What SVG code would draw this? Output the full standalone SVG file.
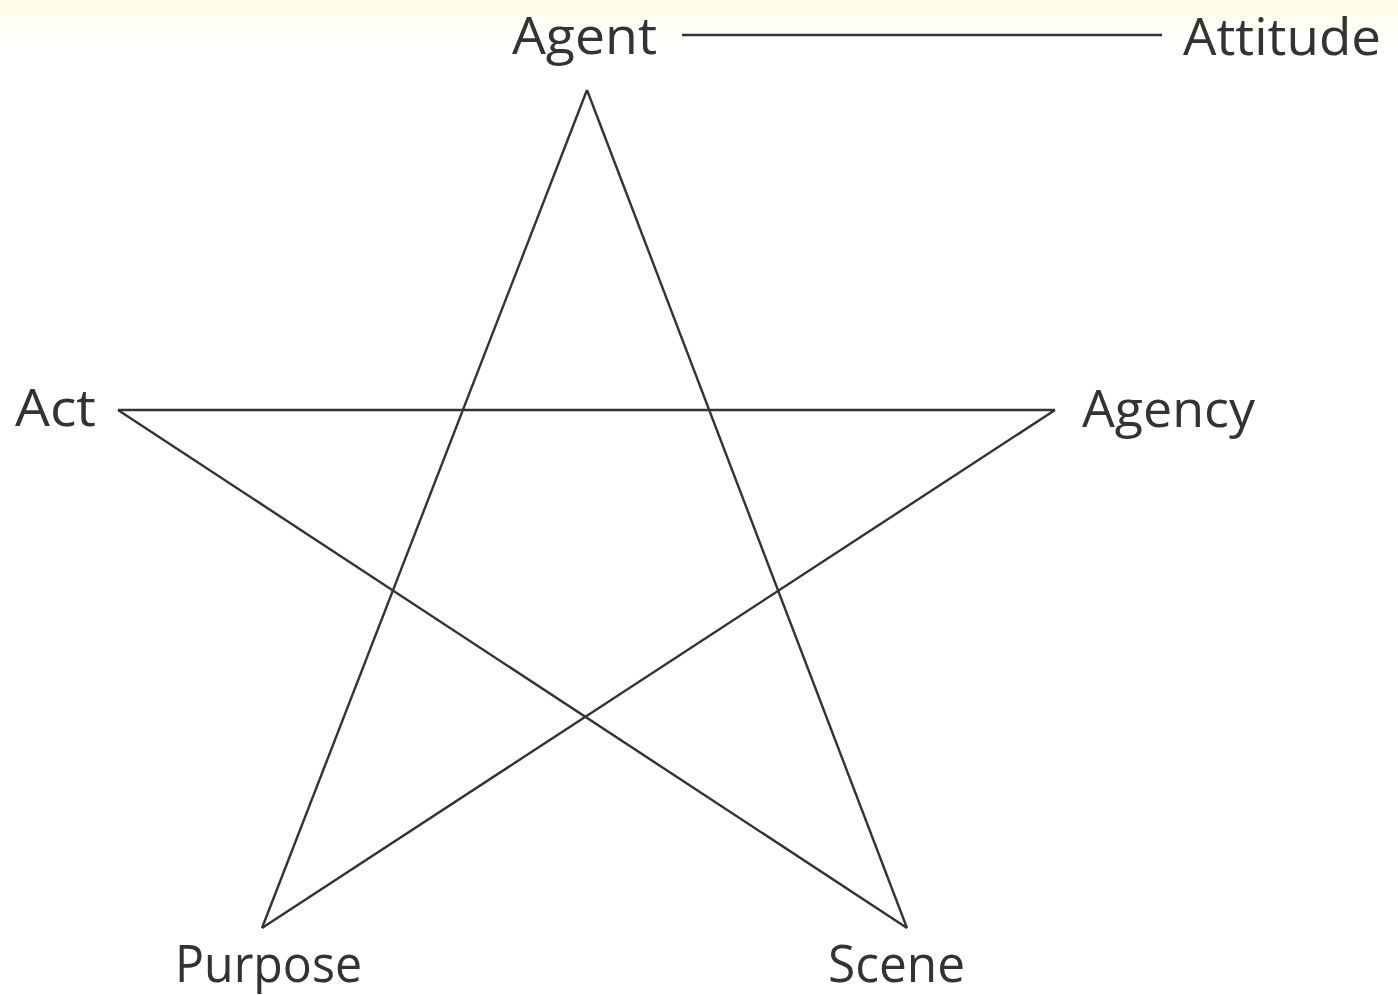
<svg xmlns="http://www.w3.org/2000/svg" width="1398" height="995" viewBox="0 0 1398 995">
<defs>
<linearGradient id="bg" x1="0" y1="0" x2="0" y2="1">
<stop offset="0" stop-color="#fffde9"/>
<stop offset="1" stop-color="#ffffff"/>
</linearGradient>
<style>
.lbl{font-family:"Open Sans","Noto Sans",sans-serif;font-size:52px;fill:#333333}
.edge{stroke:#333333;stroke-width:2.4;fill:none;stroke-linejoin:miter}
</style>
</defs>
<rect x="0" y="0" width="1398" height="995" fill="#ffffff"/>
<rect x="0" y="0" width="1398" height="45" fill="url(#bg)"/>
<g id="connectors">
<line class="edge" x1="587" y1="90" x2="262" y2="928"/>
<line class="edge" x1="587" y1="90" x2="907" y2="928"/>
<line class="edge" x1="118" y1="410" x2="1055" y2="410"/>
<line class="edge" x1="118" y1="410" x2="907" y2="928"/>
<line class="edge" x1="1055" y1="410" x2="262" y2="928"/>
<line class="edge" x1="682" y1="35" x2="1162" y2="35"/>
</g>
<g id="agent"><text class="lbl" x="512" y="54" textLength="145" lengthAdjust="spacingAndGlyphs">Agent</text></g>
<g id="attitude"><text class="lbl" x="1183" y="55" textLength="198" lengthAdjust="spacingAndGlyphs">Attitude</text></g>
<g id="act"><text class="lbl" x="15" y="426" textLength="81" lengthAdjust="spacingAndGlyphs">Act</text></g>
<g id="agency"><text class="lbl" x="1082" y="427" textLength="173" lengthAdjust="spacingAndGlyphs">Agency</text></g>
<g id="purpose"><text class="lbl" x="175" y="982" textLength="187" lengthAdjust="spacingAndGlyphs">Purpose</text></g>
<g id="scene"><text class="lbl" x="828" y="982" textLength="137" lengthAdjust="spacingAndGlyphs">Scene</text></g>
</svg>
